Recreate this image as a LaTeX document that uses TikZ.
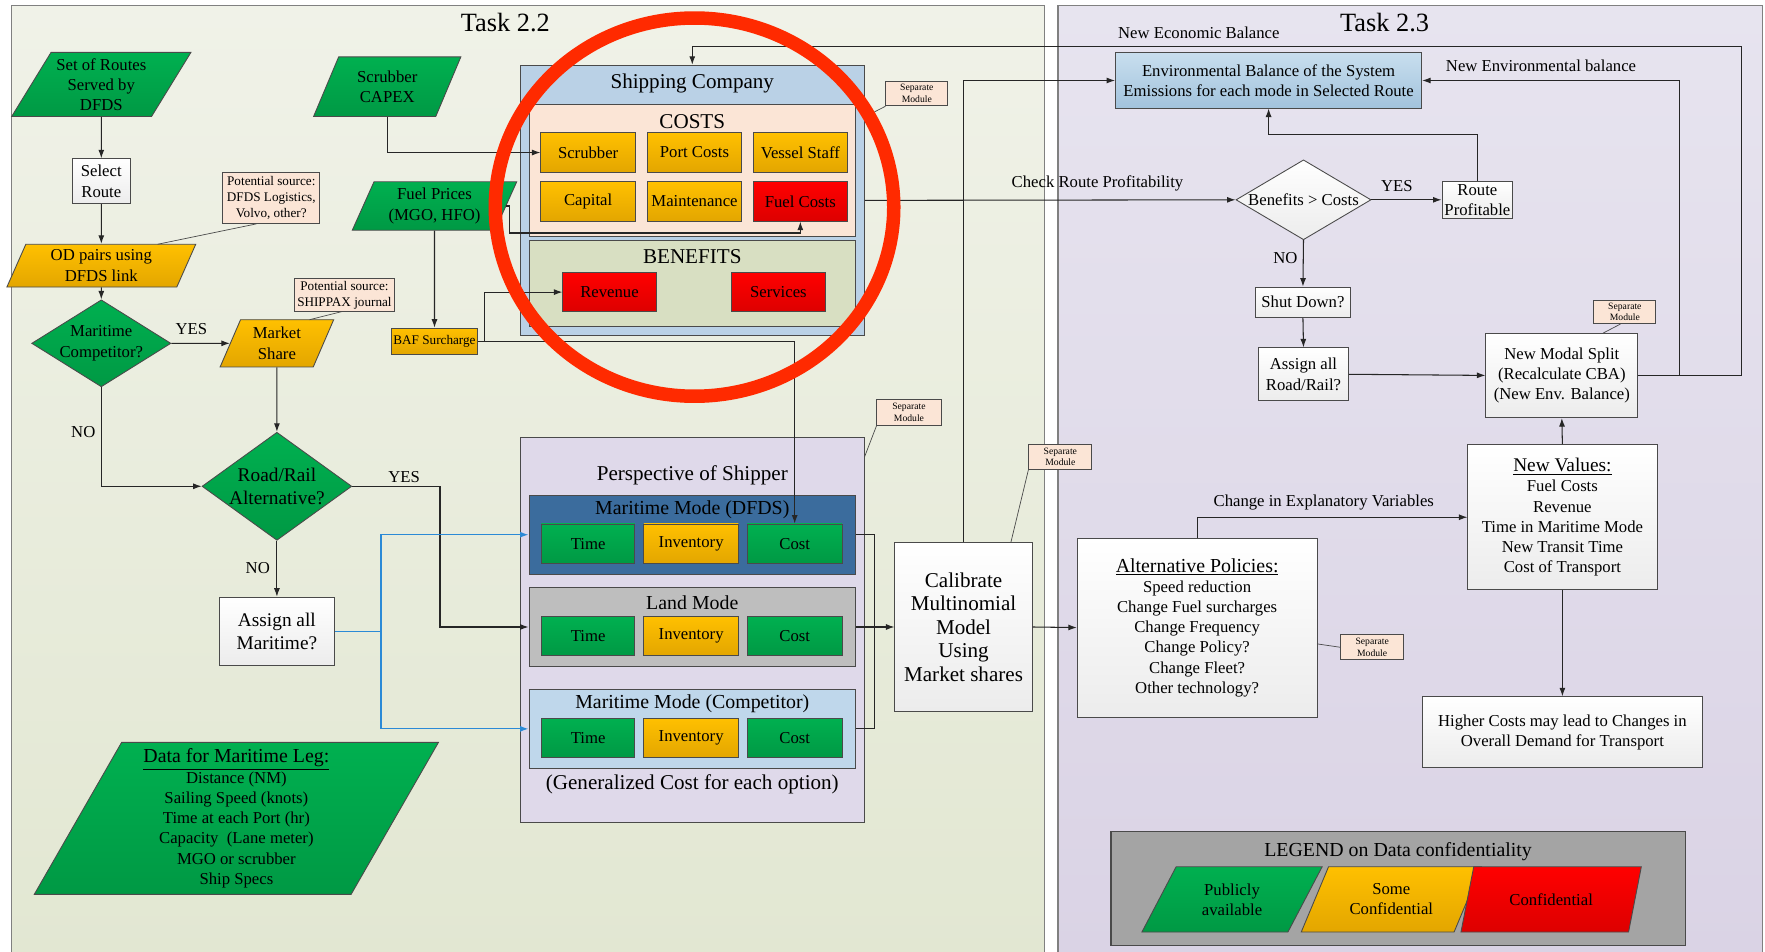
\documentclass[tikz,border=0pt]{standalone}
\usepackage{fontspec}
\setmainfont{Liberation Serif}
\usetikzlibrary{shapes.geometric,arrows.meta}

\definecolor{grnT}{HTML}{00B050}
\definecolor{grnB}{HTML}{009944}
\definecolor{yelT}{HTML}{FFC000}
\definecolor{yelB}{HTML}{E3A600}
\definecolor{redT}{HTML}{FF0000}
\definecolor{redB}{HTML}{DD0000}
\definecolor{peach}{HTML}{FBE5D6}
\definecolor{olive}{HTML}{D8DFC2}
\definecolor{shipBlue}{HTML}{BAD1E6}
\definecolor{lavender}{HTML}{DFD9EA}
\definecolor{dfdsBlue}{HTML}{3B6C9D}
\definecolor{landGray}{HTML}{BEBEBE}
\definecolor{compBlue}{HTML}{BFD7EB}
\definecolor{envT}{HTML}{C8DEEE}
\definecolor{envB}{HTML}{A2C3DD}
\definecolor{taskAT}{HTML}{F0F2E8}
\definecolor{taskAB}{HTML}{E2E7D2}
\definecolor{taskBT}{HTML}{E7E4EF}
\definecolor{taskBB}{HTML}{DAD3E5}
\definecolor{legendGray}{HTML}{A4A4A4}
\definecolor{edge}{HTML}{4A4A4A}
\definecolor{policyBlue}{HTML}{2B8AD6}
\definecolor{alertRed}{HTML}{FF2A00}
\definecolor{whiteB}{HTML}{ECECEC}

\begin{document}
\begin{tikzpicture}[x=0.022514cm,y=-0.022514cm,
	>={Latex[length=1.7mm,width=1.2mm]},
	sz/.style 2 args={minimum width=#1*\px,minimum height=#2*\px},
	base/.style={draw=edge,line width=0.5pt,inner sep=0pt,align=center,font=\fsz{9.5}{11.5}},
	grnbox/.style={base,top color=grnT,bottom color=grnB},
	yelbox/.style={base,top color=yelT,bottom color=yelB},
	redbox/.style={base,top color=redT,bottom color=redB},
	whitebox/.style={base,top color=white,bottom color=whiteB},
	note/.style={base,fill=peach,font=\fsz{7.5}{9}},
	tag/.style={base,fill=peach,font=\fsz{5.5}{6.5}},
	para/.style 2 args={trapezium,trapezium left angle=#1,trapezium right angle=#2,trapezium stretches=true},
	decision/.style={diamond,shape aspect=#1},
	cont/.style={draw=edge,line width=0.6pt,inner sep=0pt},
	ttl/.style={inner sep=1pt,font=\fsz{12}{14}},
	lbl/.style={inner sep=1pt,font=\fsz{9.5}{11.5}},
	link/.style={draw=black!85,line width=0.6pt},
	leader/.style={draw=edge,line width=0.4pt},
	bluelink/.style={draw=policyBlue,line width=0.7pt},
]

% 1 unit = 1px of the 1568 wide sheet
\def\px{0.022514cm}
\newcommand*{\fsz}[2]{\fontsize{#1}{#2}\selectfont}

\useasboundingbox (0,0) rectangle (1568,845);

% task panels
\shade[top color=taskAT,bottom color=taskAB,draw=gray,line width=0.8pt] (10,5) rectangle (928,852);
\shade[top color=taskBT,bottom color=taskBB,draw=gray,line width=0.8pt] (940,5) rectangle (1566,852);
\node[font=\fsz{15}{17}] (task22) at (449,20) {Task 2.2};
\node[font=\fsz{15}{17}] (task23) at (1230,20) {Task 2.3};

% left column
\node[grnbox,para={56}{124},sz={160}{57}] (routes) at (90,75) {Set of Routes\\Served by\\DFDS};
\node[whitebox,sz={51}{40}] (selroute) at (90,161) {Select\\Route};
\node[note,sz={86}{45}] (srcA) at (241,176) {Potential source:\\DFDS Logistics,\\Volvo, other?};
\node[yelbox,para={68}{112},sz={169}{38}] (odpairs) at (90,236) {OD pairs using\\DFDS link};
\node[grnbox,decision=1.6,sz={120}{75}] (marcomp) at (90,305) {Maritime\\Competitor?};
\node[yelbox,para={67}{113},sz={101}{42}] (mktshare) at (246,305) {Market\\Share};
\node[note,sz={89}{29}] (srcB) at (306,262) {Potential source:\\SHIPPAX journal};
\node[grnbox,decision=1.4,sz={133}{96},font=\fsz{11}{13}] (roadrail) at (246,432) {Road/Rail\\Alternative?};
\node[whitebox,sz={102}{61},font=\fsz{11}{13.5}] (assignmar) at (246,561) {Assign all\\Maritime?};
\node[grnbox,para={63}{117},sz={360}{135}] (legdata) at (210,727) {\underline{\fsz{11.3}{13}Data for Maritime Leg:}\\Distance (NM)\\Sailing Speed (knots)\\Time at each Port (hr)\\Capacity~ (Lane meter)\\MGO or scrubber\\Ship Specs};

\node[grnbox,para={64}{116},sz={131}{53}] (capex) at (344,77) {Scrubber\\CAPEX};
\node[grnbox,para={65}{115},sz={147}{43}] (fuelprice) at (386,183) {Fuel Prices\\(MGO, HFO)};
\node[yelbox,sz={76}{23},font=\fsz{7.5}{9}] (baf) at (386,303) {BAF Surcharge};

% shipping company
\node[cont,fill=shipBlue,sz={306}{240}] (shipco) at (615,178) {};
\node[ttl] (shipcoT) at (615,74) {Shipping Company};
\node[cont,fill=peach,sz={290}{117}] (costs) at (615,151.5) {};
\node[ttl] (costsT) at (615,108) {COSTS};
\node[yelbox,sz={84}{35}] (scrub) at (522.5,135.5) {Scrubber};
\node[yelbox,sz={84}{35}] (portc) at (617,135.5) {Port Costs};
\node[yelbox,sz={84}{35}] (staff) at (711,135.5) {Vessel Staff};
\node[yelbox,sz={84}{35}] (capital) at (522.5,179) {Capital};
\node[yelbox,sz={84}{35}] (maint) at (617,179) {Maintenance};
\node[redbox,sz={84}{35}] (fuelc) at (711,179) {Fuel Costs};
\node[cont,fill=olive,sz={290}{76}] (benef) at (615,252) {};
\node[ttl] (benefT) at (615,228) {BENEFITS};
\node[redbox,sz={83}{35}] (revenue) at (541.5,259.5) {Revenue};
\node[redbox,sz={83}{35}] (services) at (691.5,259.5) {Services};
\node[tag,sz={55}{22}] (tagA) at (814.5,83) {Separate\\Module};

% perspective of shipper
\node[cont,fill=lavender,sz={306}{342}] (shipper) at (615,560) {};
\node[ttl] (shipperT) at (615,422) {Perspective of Shipper};
\foreach \m/\yy/\col/\txt in {mdA/475/dfdsBlue/Maritime Mode (DFDS),mdB/557/landGray/Land Mode,mdC/647.5/compBlue/Maritime Mode (Competitor)} {
	\node[cont,fill=\col,sz={290}{70}] (\m) at (615,\yy) {};
	\node[ttl,font=\fsz{11.3}{13}] (\m-title) at (615,\yy-22) {\txt};
	\node[grnbox,sz={83}{35}] (\m-time) at (522.5,\yy+8) {Time};
	\node[yelbox,sz={84}{35}] (\m-inv) at (614,\yy+8) {Inventory};
	\node[grnbox,sz={84}{35}] (\m-cost) at (706,\yy+8) {Cost};
}
\node[ttl] (genT) at (615,697) {(Generalized Cost for each option)};
\node[tag,sz={57}{23}] (tagB) at (807.5,366.5) {Separate\\Module};

\node[whitebox,sz={122}{150},font=\fsz{12}{13.4}] (calib) at (856,557) {Calibrate\\Multinomial\\Model\\Using\\Market shares};
\node[tag,sz={56}{22}] (tagC) at (942,406) {Separate\\Module};

% task 2.3
\node[base,top color=envT,bottom color=envB,sz={272}{49}] (envbal) at (1127,71.5) {Environmental Balance of the System\\Emissions for each mode in Selected Route};
\node[whitebox,decision=1.69,sz={120}{71}] (bencost) at (1158,177.5) {Benefits > Costs};
\node[whitebox,sz={63}{33}] (routeprof) at (1312.5,177.5) {Route\\Profitable};
\node[whitebox,sz={85}{27}] (shutdown) at (1157.5,268.5) {Shut Down?};
\node[whitebox,sz={80}{47}] (assignrr) at (1158,332.5) {Assign all\\Road/Rail?};
\node[whitebox,sz={135}{75}] (newmodal) at (1387.5,333.5) {New Modal Split\\(Recalculate CBA)\\(New Env. Balance)};
\node[tag,sz={55}{21}] (tagE) at (1443.5,277) {Separate\\Module};
\node[whitebox,sz={168}{129}] (newvals) at (1388,459.5) {\underline{\fsz{11}{13}New Values:}\\Fuel Costs\\Revenue\\Time in Maritime Mode\\New Transit Time\\Cost of Transport};
\node[whitebox,sz={213}{159}] (altpol) at (1063.5,557.5) {\underline{\fsz{11.3}{13}Alternative Policies:}\\Speed reduction\\Change Fuel surcharges\\Change Frequency\\Change Policy?\\Change Fleet?\\Other technology?};
\node[tag,sz={56}{22}] (tagD) at (1219,575) {Separate\\Module};
\node[whitebox,sz={248}{63}] (higher) at (1388,650.5) {Higher Costs may lead to Changes in\\Overall Demand for Transport};

% legend
\node[cont,fill=legendGray,sz={510}{101}] (legend) at (1242,789.5) {};
\node[ttl,font=\fsz{11.3}{13}] (legendT) at (1242,757) {LEGEND on Data confidentiality};
\node[grnbox,para={60}{120},sz={161}{58}] (lgPub) at (1094.5,799) {Publicly\\available};
\node[yelbox,para={60}{120},sz={161}{58}] (lgSome) at (1236,799) {Some\\Confidential};
\node[redbox,para={60}{120},sz={161}{58}] (lgConf) at (1378,799) {Confidential};

% labels
\node[lbl] (yesA) at (170,292) {YES};
\node[lbl] (noA) at (74,384) {NO};
\node[lbl] (yesB) at (359,424) {YES};
\node[lbl] (noB) at (229,505) {NO};
\node[lbl] (chkLbl) at (975,163) {Check Route Profitability};
\node[lbl] (yesC) at (1241,165) {YES};
\node[lbl] (noC) at (1142,229) {NO};
\node[lbl] (ecoLbl) at (1065,29) {New Economic Balance};
\node[lbl] (envLbl) at (1369,58) {New Environmental balance};
\node[lbl] (explLbl) at (1176,446) {Change in Explanatory Variables};

\coordinate (ecoTurn) at (1547,41);
\coordinate (envTurn) at (1492,71.5);
\coordinate (brkTurn) at (777,557);
\coordinate (hookA) at (140,217);
\coordinate (hookB) at (275,284);
\coordinate (hookC) at (768,104);
\coordinate (hookD) at (768,406);
\coordinate (hookE) at (898,482);
\coordinate (hookF) at (1170,572);
\coordinate (hookG) at (1424,296);

% connectors
\draw[link,->] (routes.south) -- (selroute.north);
\draw[link,->] (selroute.south) -- (odpairs.north);
\draw[link,->] (odpairs.south) -- (marcomp.north);
\draw[link,->] (marcomp.east) -- (mktshare.west);
\draw[link,->] (marcomp.south) |- (roadrail.west);
\draw[link,->] (mktshare.south) -- (roadrail.north);
\draw[link,->] (roadrail.south) -- (assignmar.north);
\draw[link,->] (roadrail.east) -- ++(78,0) |- (mdB.west);
\draw[bluelink,->] (assignmar.east) -- ++(41,0) |- (mdA.west);
\draw[bluelink,->] (assignmar.east) -- ++(41,0) |- (mdC.west);
\draw[leader] (srcA.-120) -- (hookA);
\draw[leader] (srcB.-100) -- (hookB);
\draw[link,->] (capex.south) |- (scrub.west);
\draw[link,->] (fuelprice.south) -- (baf.north);
\draw[link,->] (fuelprice.east) -- ++(3,0) -- ++(0,24) -| (fuelc.south);
\draw[link,->] (baf.east) -- ++(6,0) |- (revenue.west);
\draw[link,->] (baf.east) -| (mdA-cost.north);
\draw[leader] (tagA.south west) -- (hookC);
\draw[leader] (tagB.south west) -- (hookD);
\draw[leader] (tagC.south west) -- (hookE);
\draw[leader] (tagD.west) -- (hookF);
\draw[leader] (tagE.-110) -- (hookG);
\draw[link] (mdA.east) -| (brkTurn) |- (mdC.east);
\draw[link,->] (mdB.east) -- (calib.west);
\draw[link,->] (calib.east) -- (altpol.west);
\draw[link,->] (calib.north) |- (envbal.west);
\draw[link,->] (shipco.east) -- (bencost.west);
\draw[link,->] (bencost.east) -- (routeprof.west);
\draw[link,->] (routeprof.north) -- ++(0,-41) -| (envbal.south);
\draw[link,->] (bencost.south) -- (shutdown.north);
\draw[link,->] (shutdown.south) -- (assignrr.north);
\draw[link,->] (assignrr.east) -- (newmodal.west);
\draw[link,->] (newvals.north) -- (newmodal.south);
\draw[link,->] (newvals.south) -- (higher.north);
\draw[link,->] (altpol.north) |- (newvals.west);
\draw[link,->] (newmodal.east) -| (envTurn) -- (envbal.east);
\draw[link,->] (newmodal.east) -| (ecoTurn) -| (shipco.north);

% highlight ring
\draw[alertRed,line width=0.27cm] (617,184) ellipse [x radius=177,y radius=168];

\end{tikzpicture}
\end{document}
